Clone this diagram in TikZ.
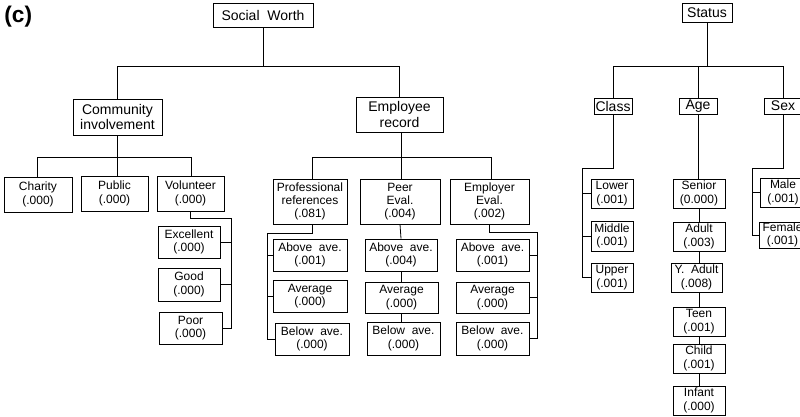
\documentclass[tikz,border=0pt]{standalone}
\usepackage{fontspec}
\setmainfont{Liberation Sans}
\newcommand\mybox[6]{\node[box, minimum width=#4*0.75pt, minimum height=#5*0.75pt] (#1) at (#2,#3) {#6};}
\newcommand\mytop[6]{\node[box, topfont, minimum width=#4*0.75pt, minimum height=#5*0.75pt] (#1) at (#2,#3) {#6};}
\begin{document}
\begin{tikzpicture}[x=0.75pt,y=-0.75pt, line width=0.6pt,
  box/.style={draw, inner sep=0pt, align=center, font=\fontsize{9}{10}\selectfont},
  topfont/.style={font=\fontsize{10.5}{11.5}\selectfont}]
\useasboundingbox (0,0) rectangle (800,417);
\clip (0,0) rectangle (800,417);
\node[font=\fontsize{17}{17}\selectfont\bfseries, anchor=north west, inner sep=0pt] (lab) at (4,6) {(c)};
% Social worth tree
\mytop{sw}{263}{15}{100}{24}{Social\ \ Worth}
\mytop{ci}{117.5}{117}{89}{36}{Community\\involvement}
\mytop{er}{399.5}{114.5}{87}{35}{Employee\\record}
\coordinate (swbar) at (0,66);
\draw (sw.south) -- (sw.south |- swbar);
\draw (ci.north) -- (ci.north |- swbar) -- (er.north |- swbar) -- (er.north);
% community
\mybox{charity}{38}{194.5}{68}{35}{Charity\\(.000)}
\mybox{public}{114.5}{193.5}{67}{35}{Public\\(.000)}
\mybox{vol}{190.5}{193.5}{67}{35}{Volunteer\\(.000)}
\coordinate (cibar) at (0,157);
\draw (ci.south) -- (ci.south |- cibar);
\draw ([xshift=-1*0.75pt]charity.north) -- ([xshift=-1*0.75pt]charity.north |- cibar) -- ([xshift=1*0.75pt]vol.north |- cibar) -- ([xshift=1*0.75pt]vol.north);
\draw ([xshift=2.5*0.75pt]public.north) -- ([xshift=2.5*0.75pt]public.north |- cibar);
\mybox{exc}{189}{242}{62}{32}{Excellent\\(.000)}
\mybox{good}{189}{284.5}{62}{33}{Good\\(.000)}
\mybox{poor}{190.5}{328}{63}{32}{Poor\\(.000)}
\coordinate (volbr) at (231,218);
\draw (vol.south) |- (volbr) |- (poor.east);
\draw (exc.east) -- (exc.east -| volbr);
\draw (good.east) -- (good.east -| volbr);
% employee
\mybox{prof}{310}{201.5}{74}{45}{Professional\\references\\(.081)}
\mybox{peer}{400}{201.5}{80}{45}{Peer\\Eval.\\(.004)}
\mybox{empl}{489.5}{201.5}{79}{45}{Employer\\Eval.\\(.002)}
\coordinate (erbar) at (0,157);
\draw ([xshift=1.5*0.75pt]er.south) -- ([xshift=1.5*0.75pt]er.south |- erbar);
\draw ([xshift=2*0.75pt]prof.north) -- ([xshift=2*0.75pt]prof.north |- erbar) -- ([xshift=1.5*0.75pt]empl.north |- erbar) -- ([xshift=1.5*0.75pt]empl.north);
\draw ([xshift=1*0.75pt]peer.north) -- ([xshift=1*0.75pt]peer.north |- erbar);
\mybox{pA}{310}{255}{74}{32}{Above\ \ ave.\\(.001)}
\mybox{pM}{310}{296}{74}{32}{Average\\(.000)}
\mybox{pB}{312}{339}{74}{32}{Below\ \ ave.\\(.000)}
\coordinate (profbr) at (267,233);
\draw ([xshift=2*0.75pt]prof.south) |- (profbr) |- (pB.west);
\draw (pA.west) -- (pA.west -| profbr);
\draw (pM.west) -- (pM.west -| profbr);
\mybox{qA}{401}{255}{72}{32}{Above\ \ ave.\\(.004)}
\mybox{qM}{401.5}{297.5}{73}{31}{Average\\(.000)}
\mybox{qB}{403.5}{338.5}{73}{33}{Below\ \ ave.\\(.000)}
\draw (peer.south) -- (qA.north);
\draw (qA.south) -- (qA.south |- qM.north);
\draw (qM.south) -- (qM.south |- qB.north);
\mybox{eA}{492.5}{255}{73}{32}{Above\ \ ave.\\(.001)}
\mybox{eM}{492.5}{297.5}{73}{31}{Average\\(.000)}
\mybox{eB}{492.5}{338.5}{73}{33}{Below\ \ ave.\\(.000)}
\coordinate (emplbr) at (537,232);
\draw (empl.south) |- (emplbr) |- (eB.east);
\draw (eA.east) -- (eA.east -| emplbr);
\draw (eM.east) -- (eM.east -| emplbr);
% Status tree
\mytop{st}{707}{12.5}{50}{19}{Status}
\mytop{class}{613}{106}{38}{16}{Class}
\mytop{age}{698}{106}{38}{16}{Age}
\mytop{sex}{783}{106}{38}{16}{Sex}
\coordinate (stbar) at (0,66);
\draw (st.south) -- (st.south |- stbar);
\draw (class.north) -- (class.north |- stbar) -- (sex.north |- stbar) -- (sex.north);
\draw (age.north) -- (age.north |- stbar);
\mybox{lower}{612}{193.5}{42}{29}{Lower\\(.001)}
\mybox{middle}{612}{236}{42}{30}{Middle\\(.001)}
\mybox{upper}{612}{277.5}{42}{29}{Upper\\(.001)}
\coordinate (classbr) at (582,168);
\draw (class.south) |- (classbr) |- (upper.west);
\draw (lower.west) -- (lower.west -| classbr);
\draw (middle.west) -- (middle.west -| classbr);
\mybox{senior}{699}{193.5}{52}{29}{Senior\\(0.000)}
\mybox{adult}{699}{236.5}{52}{29}{Adult\\(.003)}
\mybox{yadult}{696.5}{277.5}{51}{29}{Y.\ \ Adult\\(.008)}
\mybox{teen}{699}{321.5}{52}{29}{Teen\\(.001)}
\mybox{child}{699}{358.5}{52}{29}{Child\\(.001)}
\mybox{infant}{699}{400.5}{52}{29}{Infant\\(.000)}
\draw (age.south) -- (age.south |- senior.north);
\draw (senior.south) -- (adult.north);
\draw (adult.south) -- (adult.south |- yadult.north);
\draw (yadult.south -| teen.north) -- (teen.north);
\draw (teen.south) -- (child.north);
\draw (child.south) -- (infant.north);
\mybox{male}{783}{192.5}{46}{29}{Male\\(.001)}
\mybox{female}{782.5}{235}{47}{26}{Female\\(.001)}
\coordinate (sexbr) at (752,168);
\draw (sex.south) |- (sexbr) |- (female.west);
\draw (male.west) -- (male.west -| sexbr);
\end{tikzpicture}
\end{document}
